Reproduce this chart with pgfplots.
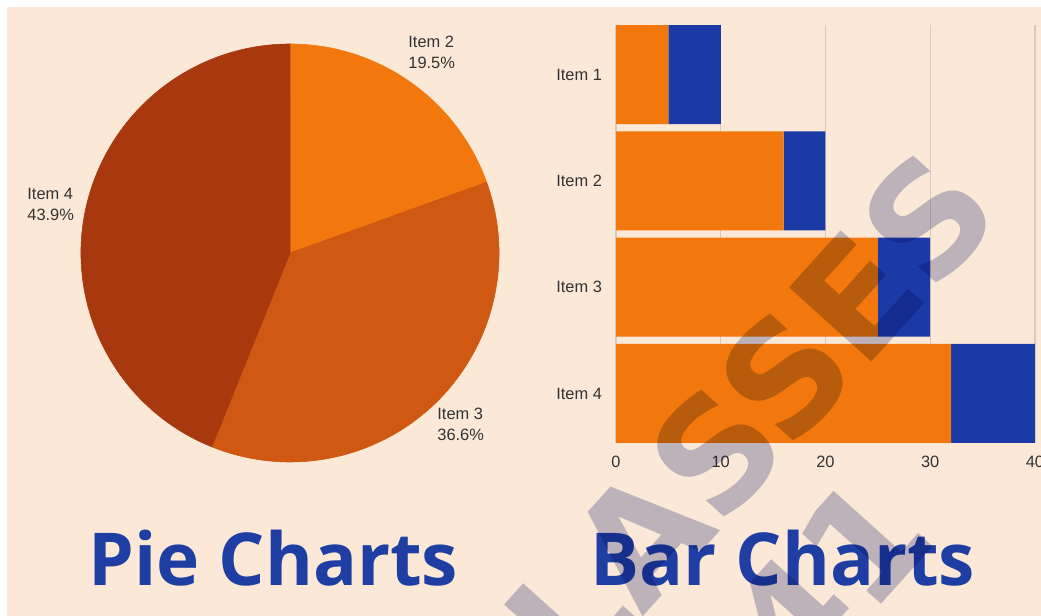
\documentclass[border=0pt]{standalone}
\usepackage{fontspec}
\setmainfont{Liberation Sans}
\newfontfamily\titlefont{Open Sans}
\newfontfamily\wmfont{DejaVu Sans}
\usepackage{pgfplots}
\pgfplotsset{compat=1.18}
\definecolor{bgpeach}{HTML}{FCE8D6}
\definecolor{orA}{HTML}{F2780E}
\definecolor{pieC}{HTML}{CF5813}
\definecolor{pieD}{HTML}{A8380E}
\definecolor{blueA}{HTML}{1B3AA6}
\definecolor{titleblue}{HTML}{1E3EA3}
\definecolor{gridc}{HTML}{D9C9BD}
\definecolor{txt}{HTML}{333333}
\definecolor{wm}{HTML}{C0C4DE}

\begin{document}
\begin{tikzpicture}
% 1 px of the reference = 0.5pt
\useasboundingbox (0pt,0pt) rectangle (520.5pt,308pt);
\clip (0pt,0pt) rectangle (520.5pt,308pt);
\fill[white] (0pt,0pt) rectangle (520.5pt,308pt);
\fill[bgpeach] (3.5pt,0pt) rectangle (520.5pt,304.5pt);

% pie: shares in percent
\pgfmathsetmacro\aA{90}
\pgfmathsetmacro\aB{\aA-3.6*19.5}
\pgfmathsetmacro\aC{\aB-3.6*36.6}
\pgfmathsetmacro\aD{\aC-3.6*43.9}
\begin{axis}[at={(145pt,181.5pt)}, anchor=center, scale only axis,
  width=209pt, height=209pt, xmin=-1, xmax=1, ymin=-1, ymax=1,
  hide axis, clip=false]
\filldraw[fill=orA, draw=orA, line width=0.3pt] (axis cs:0,0) -- (axis cs:{cos(\aA)},{sin(\aA)})
  arc[start angle=\aA, end angle=\aB, radius=104.5pt] -- cycle;
\filldraw[fill=pieC, draw=pieC, line width=0.3pt] (axis cs:0,0) -- (axis cs:{cos(\aB)},{sin(\aB)})
  arc[start angle=\aB, end angle=\aC, radius=104.5pt] -- cycle;
\filldraw[fill=pieD, draw=pieD, line width=0.3pt] (axis cs:0,0) -- (axis cs:{cos(\aC)},{sin(\aC)})
  arc[start angle=\aC, end angle=\aD, radius=104.5pt] -- cycle;
\end{axis}

\begin{axis}[at={(308pt,86.5pt)}, anchor=south west, scale only axis,
  width=209.5pt, height=209pt,
  xbar stacked, bar width=49.5pt,
  xmin=0, xmax=40, ymin=0.534, ymax=4.466, y dir=reverse,
  ytick={1,2,3,4}, yticklabels={Item 1,Item 2,Item 3,Item 4},
  xtick={0,10,20,30,40},
  xmajorgrids, grid style={gridc, line width=0.7pt},
  axis line style={draw=none}, major tick length=0pt,
  tick label style={font=\fontsize{8.2}{10}\selectfont, text=txt},
  yticklabel style={xshift=-3.5pt},
  xticklabel style={yshift=-3.2pt},
  /pgf/number format/assume math mode=true,
  clip=false]
\addplot[fill=orA, draw=none] coordinates {(5,1) (16,2) (25,3) (32,4)};
\addplot[fill=blueA, draw=none] coordinates {(5,1) (4,2) (5,3) (8,4)};
\end{axis}

\begin{scope}[x=0.5pt, y=0.5pt]
\begin{scope}[every node/.style={inner sep=0pt, text=txt, align=left,
    font=\fontsize{8.2}{10.5}\selectfont}]
\node[anchor=north west] at (408,580) {Item 2\\19.5\%};
\node[anchor=north west] at (437,208) {Item 3\\36.6\%};
\node[anchor=north west] at (27,428) {Item 4\\43.9\%};
\end{scope}

\node[anchor=base west, inner sep=0pt, text=titleblue,
  font=\titlefont\bfseries\fontsize{36.5}{40}\selectfont] at (88,30) {Pie Charts};
\node[anchor=base west, inner sep=0pt, text=titleblue,
  font=\titlefont\bfseries\fontsize{36.5}{40}\selectfont] at (590,30) {Bar Charts};

\begin{scope}[blend mode=multiply]
\node[rotate=48, inner sep=0pt, text=wm, font=\wmfont\bfseries\fontsize{76}{90}\selectfont]
  at (713,160) {CLASSES};
\node[rotate=48, inner sep=0pt, text=wm, font=\wmfont\bfseries\fontsize{76}{90}\selectfont]
  at (828,36) {41};
\end{scope}
\end{scope}
\end{tikzpicture}
\end{document}
